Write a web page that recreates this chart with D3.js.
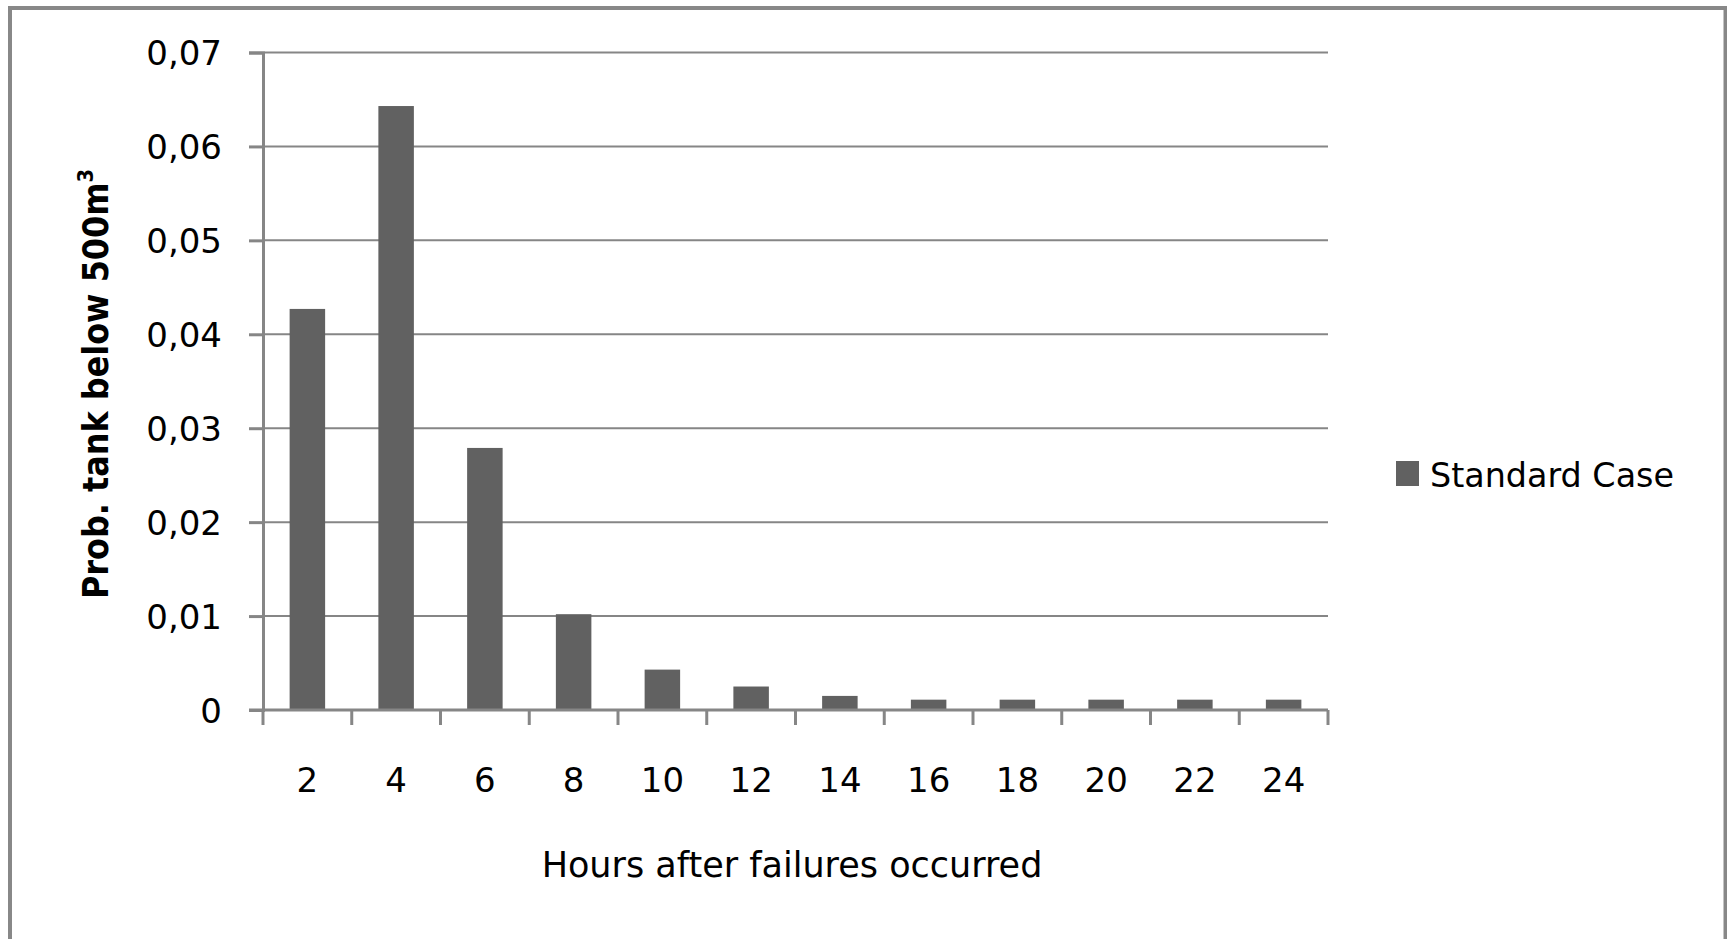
<!DOCTYPE html>
<html>
<head>
<meta charset="utf-8">
<script src="https://cdn.jsdelivr.net/npm/d3@7"></script>
<style>
  html, body { margin: 0; padding: 0; background: #fff; }
  svg { display: block; }
  text { font-family: "DejaVu Sans", Verdana, sans-serif; fill: #000; }
</style>
</head>
<body>
<svg id="chart" width="1727" height="939"></svg>
<script>
// ---- data ----
const hours = ["2", "4", "6", "8", "10", "12", "14", "16", "18", "20", "22", "24"];
const probStandard = [0.0427, 0.0643, 0.0279, 0.0102, 0.0043, 0.0025, 0.0015, 0.0011, 0.0011, 0.0011, 0.0011, 0.0011];
const yTickValues = [0, 0.01, 0.02, 0.03, 0.04, 0.05, 0.06, 0.07];
const yTickLabels = ["0", "0,01", "0,02", "0,03", "0,04", "0,05", "0,06", "0,07"];
const seriesName = "Standard Case";
const xTitle = "Hours after failures occurred";
const yTitle = "Prob. tank below 500m";

// ---- layout ----
const W = 1727, H = 939;
const plot = { left: 263, right: 1328, top: 52.5, bottom: 710 };
const gridColor = "#868686";
const barColor = "#616161";

const svg = d3.select("#chart");

// outer frame
svg.append("rect")
  .attr("x", 10).attr("y", 8)
  .attr("width", 1715.5).attr("height", 1000)
  .attr("fill", "none").attr("stroke", "#888").attr("stroke-width", 4);

const x = d3.scaleBand().domain(hours).range([plot.left, plot.right]).paddingInner(0).paddingOuter(0);
const y = d3.scaleLinear().domain([0, 0.07]).range([plot.bottom, plot.top]);

// gridlines
svg.append("g").selectAll("line")
  .data(yTickValues.filter(d => d > 0))
  .join("line")
  .attr("x1", plot.left).attr("x2", plot.right)
  .attr("y1", d => y(d)).attr("y2", d => y(d))
  .attr("stroke", gridColor).attr("stroke-width", 2);

// bars
const barFrac = 0.4;
svg.append("g").selectAll("rect")
  .data(hours.map((h, i) => ({ h, v: probStandard[i] })))
  .join("rect")
  .attr("x", d => x(d.h) + x.bandwidth() * (1 - barFrac) / 2)
  .attr("width", x.bandwidth() * barFrac)
  .attr("y", d => y(d.v))
  .attr("height", d => y(0) - y(d.v))
  .attr("fill", barColor);

// y axis
const yAxis = d3.axisLeft(y)
  .tickValues(yTickValues)
  .tickFormat((d, i) => yTickLabels[i])
  .tickSize(14)
  .tickPadding(27);
const gy = svg.append("g").attr("transform", `translate(${plot.left},0)`).call(yAxis);
gy.select(".domain").attr("stroke", gridColor).attr("stroke-width", 3);
gy.selectAll(".tick line").attr("stroke", gridColor).attr("stroke-width", 3);
gy.selectAll(".tick text")
  .attr("font-size", 34)
  .attr("font-family", "'DejaVu Sans', Verdana, sans-serif")
  .attr("fill", "#000")
  .attr("dy", "0.36em");

// x axis
const xAxis = d3.axisBottom(x).tickSize(0).tickPadding(0);
const gx = svg.append("g").attr("transform", `translate(0,${plot.bottom})`).call(xAxis);
gx.select(".domain").remove();
gx.append("line")
  .attr("x1", plot.left - 14).attr("x2", plot.right)
  .attr("y1", 0).attr("y2", 0)
  .attr("stroke", gridColor).attr("stroke-width", 3);
// tick marks at category boundaries
const boundaries = hours.map(h => x(h)).concat([plot.right]);
gx.append("g").selectAll("line")
  .data(boundaries)
  .join("line")
  .attr("x1", d => d).attr("x2", d => d)
  .attr("y1", 0).attr("y2", 15)
  .attr("stroke", gridColor).attr("stroke-width", 3);
gx.selectAll(".tick text")
  .attr("font-size", 34)
  .attr("font-family", "'DejaVu Sans', Verdana, sans-serif")
  .attr("fill", "#000")
  .attr("dy", 0)
  .attr("y", 82)
  .attr("dx", 0);

// x title
svg.append("text")
  .attr("x", 792).attr("y", 877)
  .attr("text-anchor", "middle")
  .attr("font-size", 35)
  .text(xTitle);

// y title
const yt = svg.append("text")
  .attr("transform", "translate(108,384) rotate(-90)")
  .attr("text-anchor", "middle")
  .attr("font-size", 36)
  .attr("font-weight", "bold")
  .attr("textLength", 430)
  .attr("lengthAdjust", "spacingAndGlyphs");
yt.append("tspan").text(yTitle);
yt.append("tspan").attr("font-size", 22).attr("dy", -15).text("3");

// legend
const lg = svg.append("g");
lg.append("rect")
  .attr("x", 1396).attr("y", 461).attr("width", 23).attr("height", 25)
  .attr("fill", barColor);
lg.append("text")
  .attr("x", 1430).attr("y", 487)
  .attr("font-size", 34)
  .attr("textLength", 244)
  .attr("lengthAdjust", "spacingAndGlyphs")
  .text(seriesName);
</script>
</body>
</html>
